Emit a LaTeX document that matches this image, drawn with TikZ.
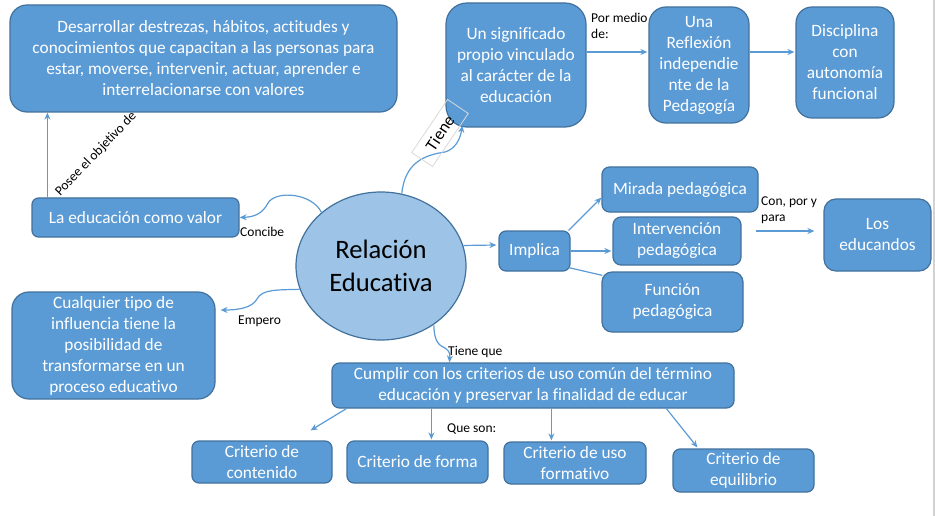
\documentclass[tikz,border=0pt]{standalone}
\usepackage{fontspec}
\setmainfont{Carlito}[Ligatures=NoCommon]
\usetikzlibrary{arrows.meta,calc,shapes.geometric}
\definecolor{boxfill}{HTML}{5B9BD5}
\definecolor{boxline}{HTML}{41719C}
\definecolor{ellfill}{HTML}{9DC3E6}
\definecolor{connc}{HTML}{5B9BD5}
\tikzset{
 box/.style={draw=boxline, fill=boxfill, line width=1.2pt, text=white, align=center, inner sep=0pt, font=\fontsize{17.3}{21}\selectfont},
 conn/.style={draw=connc, line width=1.2pt, -{Stealth[length=7pt,width=6pt]}},
 plainline/.style={draw=connc, line width=1.2pt},
 lbl/.style={font=\fontsize{13.5}{16}\selectfont, text=black, inner sep=0pt, align=left},
}
\begin{document}
\begin{tikzpicture}[x=1pt,y=-1pt]
\useasboundingbox (0,0) rectangle (935,516);
\fill[white] (0,0) rectangle (935,516);
\draw[gray!35, line width=2pt] (933.5,0) -- (933.5,516);

% boxes
\node[box, minimum width=387pt, minimum height=107pt, rounded corners=17pt] (des) at (203.5,58.5)
 {Desarrollar destrezas, hábitos, actitudes y\\conocimientos que capacitan a las personas para\\estar, moverse, intervenir, actuar, aprender e\\interrelacionarse con valores};
\node[box, minimum width=140pt, minimum height=124pt, rounded corners=21pt] (sig) at (516,65)
 {Un significado\\propio vinculado\\al carácter de la\\educación};
\node[box, minimum width=100pt, minimum height=116pt, rounded corners=17pt] (ref) at (699,65)
 {Una\\Reflexión\\independie\\nte de la\\Pedagogía};
\node[box, minimum width=98pt, minimum height=111pt, rounded corners=16pt] (dis) at (845,62.5)
 {Disciplina\\con\\autonomía\\funcional};
\node[box, minimum width=207pt, minimum height=39pt, rounded corners=6.5pt] (edu) at (135.5,217.5)
 {La educación como valor};
\node[ellipse, draw=boxline, fill=ellfill, line width=1.2pt, minimum width=170pt, minimum height=148pt, inner sep=0pt, align=center, font=\fontsize{26.6}{33}\selectfont] (rel) at (381,266)
 {Relación\\Educativa};
\node[box, minimum width=71pt, minimum height=40pt, rounded corners=7pt] (imp) at (534.5,251) {Implica};
\node[box, minimum width=156pt, minimum height=45pt, rounded corners=7.5pt] (mir) at (680,189.5) {Mirada pedagógica};
\node[box, minimum width=128pt, minimum height=48pt, rounded corners=8pt] (int) at (677,241) {Intervención\\pedagógica};
\node[box, minimum width=141pt, minimum height=60pt, rounded corners=10pt] (fun) at (672.5,302) {Función\\pedagógica};
\node[box, minimum width=107pt, minimum height=72pt, rounded corners=12pt] (los) at (877.5,235) {Los\\educandos};
\node[box, minimum width=203pt, minimum height=107pt, rounded corners=17pt] (cua) at (113.5,345.5)
 {Cualquier tipo de\\influencia tiene la\\posibilidad de\\transformarse en un\\proceso educativo};
\node[box, minimum width=402pt, minimum height=45pt, rounded corners=7.5pt] (cum) at (533,385.5)
 {Cumplir con los criterios de uso común del término\\educación y preservar la finalidad de educar};
\node[box, minimum width=140pt, minimum height=42pt, rounded corners=7pt] (cc) at (262,462) {Criterio de\\contenido};
\node[box, minimum width=141pt, minimum height=42pt, rounded corners=7pt] (cf) at (417.5,462) {Criterio de forma};
\node[box, minimum width=142pt, minimum height=42pt, rounded corners=7pt] (cu) at (575,463) {Criterio de uso\\formativo};
\node[box, minimum width=141pt, minimum height=43pt, rounded corners=7pt] (ce) at (743.5,470.5) {Criterio de\\equilibrio};

% connectors
\draw[conn] ($(edu.north west)+(16,0)$) -- ($(des.south west)+(38,0)$);
\draw[conn] (rel.138) .. controls (312,193) and (276,190) .. (268,203) .. controls (263,213) and (255,217) .. (edu.east);
\draw[conn] (rel.196) .. controls (278,290) and (262,289) .. (257,299) .. controls (252,308) and (238,310) .. ($(cua.east)+(5,-35.5)$);
\draw[conn] (rel.74) .. controls (405,162) and (425,155) .. (445,152) .. controls (455,149) and (460,140) .. ($(sig.south west)+(17,-2)$);
\draw[conn] (rel.-48) .. controls (434,340) and (438,345) .. (445,348) .. controls (450,351) and (450,355) .. ($(cum.north west)+(118,0)$);
\draw[conn] (rel.14) -- ($(imp.west)+(-2,-6)$);
\draw[conn] ($(imp.north east)+(-2,0)$) -- ($(mir.south west)+(0,-15)$);
\draw[conn] (imp.east) -- ($(imp.east -| int.west)+(-1,0)$);
\draw[plainline] ($(imp.south east)+(-2,-4)$) -- ($(fun.north west)+(1,4)$);
\coordinate (cp) at (756,231);
\draw[conn] (cp) -- ($(cp -| los.west)+(-9,0)$);
\draw[conn] ($(sig.east)+(0,-13)$) -- ($(ref.west)+(-1,-13)$);
\draw[conn] ($(ref.east)+(0,-13)$) -- ($(dis.west)+(-1,-10.5)$);
\coordinate (q1) at ($(cum.south west)+(15,0)$);
\coordinate (q2) at ($(cum.south west)+(100,0)$);
\coordinate (q3) at ($(cum.south west)+(220,0)$);
\coordinate (q4) at ($(cum.south west)+(335,0)$);
\draw[conn] (q1) -- ($(cc.north east)+(-22,-10)$);
\draw[conn] (q2) -- ($(q2 |- cf.north)+(0,-1)$);
\draw[conn] (q3) -- ($(q3 |- cu.north)+(0,-1)$);
\draw[conn] (q4) -- ($(ce.north west)+(25,-1)$);

% labels
\node[draw=gray!30, line width=0.8pt, rotate=56, minimum width=64pt, minimum height=25pt, inner sep=0pt, font=\fontsize{17}{19}\selectfont] (tl) at (440,133) {Tiene};
\node[lbl, rotate=46] (pl) at (96,154) {Posee el objetivo de};
\node[lbl, anchor=west] (lc) at (240,232) {Concibe};
\node[lbl, anchor=west] (le) at (238,321) {Empero};
\node[lbl, anchor=west] (lt) at (448,352) {Tiene que};
\node[lbl, anchor=west] (lq) at (447,429) {Que son:};
\node[lbl, anchor=north west] (lp) at (591,13) {Por medio\\de:};
\node[lbl, anchor=north west] (lcp) at (761,197) {Con, por y\\para};
\end{tikzpicture}
\end{document}
